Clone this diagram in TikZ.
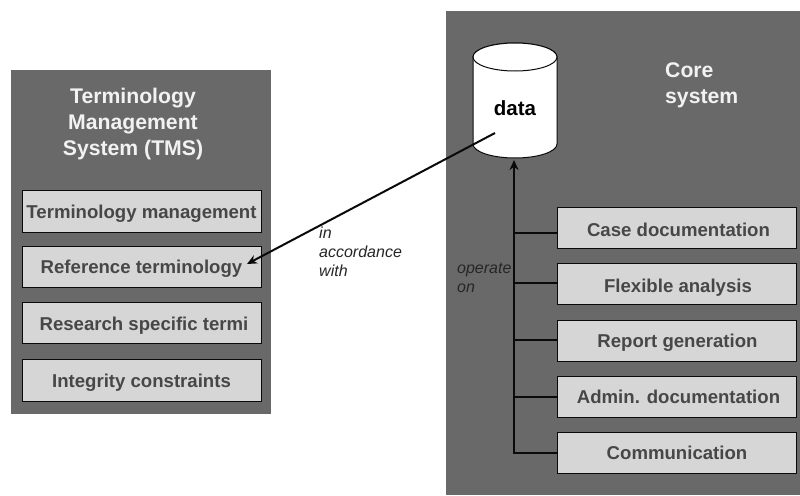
\documentclass[tikz,border=0pt]{standalone}
\usepackage{fontspec}
\setmainfont{Liberation Sans}
\usetikzlibrary{arrows.meta}
\definecolor{panelgray}{HTML}{696969}
\definecolor{boxgray}{HTML}{D6D6D6}
\definecolor{boxtext}{HTML}{474747}
\definecolor{paneltext}{HTML}{F2F2F2}
\definecolor{linecol}{HTML}{0A0A0A}
\newcommand{\boxt}[3]{\hspace*{#2}\raisebox{-#1}[0pt][0pt]{#3}}
\tikzset{
  panel/.style={fill=panelgray,draw=none,inner sep=0pt,outer sep=0pt},
  itembox/.style={fill=boxgray,draw=linecol,line width=1pt,inner sep=0pt,outer sep=0pt,
    minimum width=239,minimum height=41,text=boxtext,font=\fontsize{18.6}{22}\selectfont\bfseries},
  paneltitle/.style={text=paneltext,font=\fontsize{21.2}{26}\selectfont\bfseries,inner sep=0pt},
  note/.style={font=\fontsize{16}{19}\selectfont\itshape,text=black!85,inner sep=0pt,align=left},
  conn/.style={draw=linecol,line width=2pt},
  tip/.style={-{Stealth[length=10pt,width=9pt]}},
  drum/.style={draw=linecol,line width=1pt,fill=white}
}
\begin{document}
\begin{tikzpicture}[x=1pt,y=-1pt]
\useasboundingbox (0,0) rectangle (800,495);
\fill[white] (0,0) rectangle (800,495);
\node[panel,minimum width=260,minimum height=344,anchor=north west] (tms) at (11,70) {};
\node[panel,minimum width=354,minimum height=484,anchor=north west] (core) at (446,11) {};
\node[paneltitle,align=center] (tmstitle) at (133,124) {Terminology\\Management\\System (TMS)};
\node[paneltitle,align=left,anchor=west] (coretitle) at (665,85) {Core\\system};
\node[itembox,minimum height=42] (t1) at (141.5,211) {\boxt{7pt}{0pt}{Terminology management}};
\node[itembox] (t2) at (141.5,267) {\boxt{6pt}{0pt}{Reference terminology}};
\node[itembox] (t3) at (141.5,323) {\boxt{7pt}{5pt}{Research specific termi}};
\node[itembox,minimum height=42] (t4) at (141.5,380) {\boxt{7pt}{0pt}{Integrity constraints}};
\node[itembox] (c1) at (677,228) {\boxt{8pt}{3pt}{Case documentation}};
\node[itembox] (c2) at (677,284) {\boxt{8pt}{2pt}{Flexible analysis}};
\node[itembox] (c3) at (677,340.5) {\boxt{6.5pt}{1pt}{Report generation}};
\node[itembox] (c4) at (677,396.5) {\boxt{6.5pt}{3pt}{Admin. documentation}};
\node[itembox] (c5) at (677,453) {\boxt{6pt}{0pt}{Communication}};
\path[drum] (473,57) -- (473,144) arc[start angle=180,end angle=0,x radius=42,y radius=14]
  -- (557,57) arc[start angle=0,end angle=-180,x radius=42,y radius=14] -- cycle;
\draw[drum] (515,57) ellipse[x radius=42,y radius=14];
\node[font=\fontsize{20.5}{24}\selectfont\bfseries,text=black,inner sep=0pt] (data) at (515,108) {data};
\coordinate (dataout) at (495,133);
\coordinate (refin) at (247,264);
\draw[conn,tip] (dataout) -- (refin);
\coordinate (trunktop) at (514,160);
\coordinate (trunkbot) at (514,453);
\draw[conn,tip] (c5.west) -- (trunkbot) -- (trunktop);
\foreach \n/\yy in {c1/233,c2/283,c3/340,c4/397}{
  \coordinate (j\n) at (514,\yy);
  \draw[conn] (j\n) -- (j\n -| \n.west);
}
\node[note,anchor=north west] (n1) at (319,227) {in\\accordance\\with};
\node[note,anchor=north west] (n2) at (457,263) {operate\\on};
\end{tikzpicture}
\end{document}
